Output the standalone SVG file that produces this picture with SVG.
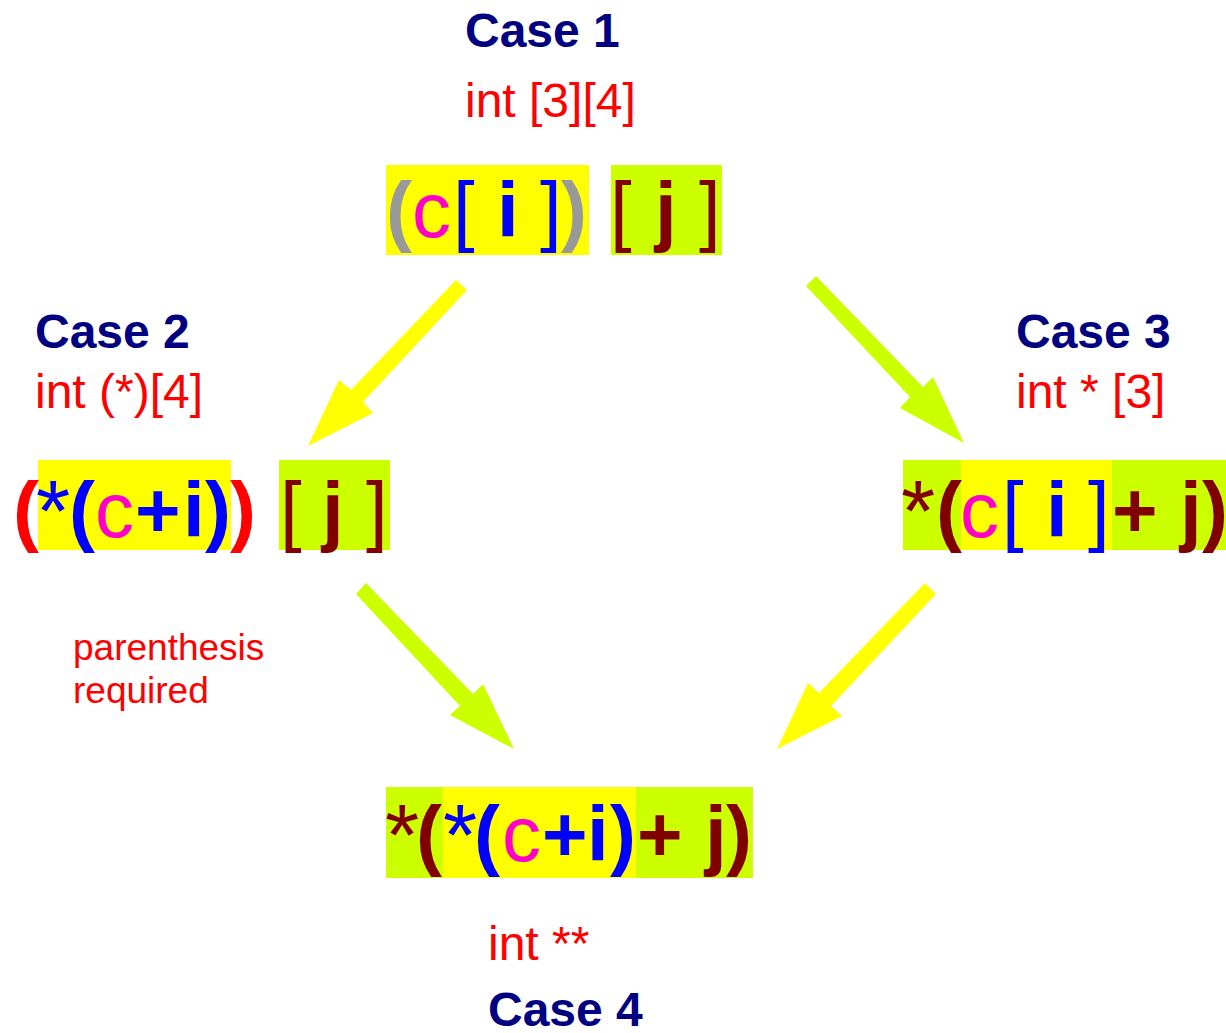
<svg xmlns="http://www.w3.org/2000/svg" width="1226" height="1033" viewBox="0 0 1226 1033">
<style>
.case{font-family:"Liberation Sans",Arial,sans-serif;font-weight:bold;font-size:48px;fill:#000080}
.type{font-family:"Liberation Sans",Arial,sans-serif;font-size:48px;fill:#ff0000}
.note{font-family:"Liberation Sans",Arial,sans-serif;font-size:37px;fill:#ff0000}
.ex{font-family:"Liberation Sans",Arial,sans-serif;font-size:78px}
.b{font-weight:bold}
.st{font-size:88px}
.gy{fill:#999999}.mg{fill:#ff00cc}.bl{fill:#0000ff}.dr{fill:#800000}.rd{fill:#ff0000}
.y{fill:#ffff00}.l{fill:#ccff00}
</style>
<rect width="1226" height="1033" fill="#ffffff"/>
<g id="case1">
<text class="case" x="465" y="47">Case 1</text>
<text class="type" x="465" y="117">int [3][4]</text>
<rect class="y" x="386" y="165" width="203" height="90"/>
<rect class="l" x="611" y="165" width="111" height="90"/>
<text class="ex" y="237"><tspan class="gy b" x="386">(</tspan><tspan class="mg" x="412">c</tspan><tspan class="bl" x="453">[</tspan><tspan class="bl b" x="497">i</tspan><tspan class="bl" x="540">]</tspan><tspan class="gy b" x="561">)</tspan><tspan class="dr" x="610">[</tspan><tspan class="dr b" x="655">j</tspan><tspan class="dr" x="699">]</tspan></text>
</g>
<g id="case2">
<text class="case" x="35" y="348">Case 2</text>
<text class="type" x="35" y="408">int (*)[4]</text>
<rect class="y" x="38" y="460" width="193" height="90"/>
<rect class="l" x="279" y="460" width="111" height="90"/>
<text class="ex" y="537"><tspan class="rd b" x="13">(</tspan><tspan class="bl st" x="36" y="541">*</tspan><tspan class="bl b" x="69" y="537">(</tspan><tspan class="mg" x="95">c</tspan><tspan class="bl b" x="135">+</tspan><tspan class="bl b" x="183">i</tspan><tspan class="bl b" x="205">)</tspan><tspan class="rd b" x="230">)</tspan><tspan class="dr" x="280">[</tspan><tspan class="dr b" x="322">j</tspan><tspan class="dr" x="366">]</tspan></text>
<text class="note" x="73" y="660">parenthesis</text>
<text class="note" x="73" y="703">required</text>
</g>
<g id="case3">
<text class="case" x="1016" y="348">Case 3</text>
<text class="type" x="1016" y="408">int * [3]</text>
<rect class="l" x="903" y="460" width="323" height="90"/>
<rect class="y" x="961" y="460" width="151" height="90"/>
<text class="ex" y="537"><tspan class="dr st" x="901" y="541">*</tspan><tspan class="dr b" x="936" y="537">(</tspan><tspan class="mg" x="960">c</tspan><tspan class="bl" x="1002">[</tspan><tspan class="bl b" x="1046">i</tspan><tspan class="bl" x="1088">]</tspan><tspan class="dr b" x="1112">+</tspan><tspan class="dr b" x="1180">j</tspan><tspan class="dr b" x="1202">)</tspan></text>
</g>
<g id="case4">
<rect class="l" x="386" y="787" width="367" height="91"/>
<rect class="y" x="443" y="787" width="193" height="91"/>
<text class="ex" y="861"><tspan class="dr st" x="385" y="865">*</tspan><tspan class="dr b" x="416" y="861">(</tspan><tspan class="bl st" x="443" y="865">*</tspan><tspan class="bl b" x="474" y="861">(</tspan><tspan class="mg" x="502">c</tspan><tspan class="bl b" x="542">+</tspan><tspan class="bl b" x="587">i</tspan><tspan class="bl b" x="610">)</tspan><tspan class="dr b" x="637">+</tspan><tspan class="dr b" x="705">j</tspan><tspan class="dr b" x="726">)</tspan></text>
<text class="type" x="488" y="960">int **</text>
<text class="case" x="488" y="1026">Case 4</text>
</g>
<g id="connectors">
<polygon class="y" points="456,280 467,290 363,402 373,413 308,446 339,380 351,390"/>
<polygon class="l" points="816,276 923,387 933,377 964,443 900,408 910,397 806,286"/>
<polygon class="l" points="366,583 473,694 483,684 514,749 450,715 460,706 356,594"/>
<polygon class="y" points="925,583 936,594 831,706 842,716 777,749 808,683 819,693"/>
</g>
</svg>
